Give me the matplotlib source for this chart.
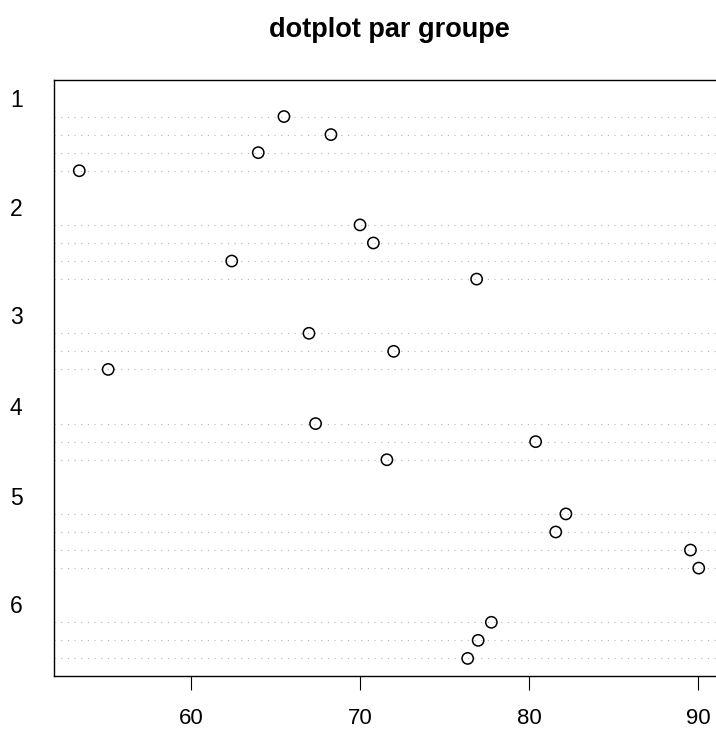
#!/usr/bin/env python3
"""Dotplot par groupe, dans le style de dotchart() de R."""

import matplotlib
matplotlib.use("Agg")
import matplotlib.pyplot as plt
import matplotlib.transforms as mtransforms
import numpy as np

plt.rcParams["font.family"] = ["Liberation Sans", "DejaVu Sans"]

TITLE = "dotplot par groupe"
GROUP_LABELS = ["1", "2", "3", "4", "5", "6"]

# values of each group, listed top to bottom as they appear
GROUP_1 = [65.50, 68.28, 63.98, 53.39]
GROUP_2 = [70.00, 70.79, 62.41, 76.90]
GROUP_3 = [66.98, 71.99, 55.10]
GROUP_4 = [67.37, 80.39, 71.59]
GROUP_5 = [82.18, 81.58, 89.55, 90.04]
GROUP_6 = [77.77, 76.99, 76.37]

GROUPS = [GROUP_1, GROUP_2, GROUP_3, GROUP_4, GROUP_5, GROUP_6]
X_TICKS = [60, 70, 80, 90]


def dotchart_positions(groups):
    """Same layout as R dotchart: rows from bottom, 2 blank rows between groups."""
    ys, xs, gpos = [], [], []
    y = 0
    for values in reversed(groups):
        for v in reversed(values):
            y += 1
            ys.append(y)
            xs.append(v)
        gpos.append(y + 1)
        y += 2
    return np.array(xs), np.array(ys), list(reversed(gpos)), y


def main() -> None:
    fig = plt.figure(figsize=(7.16, 7.33), dpi=100)
    ax = fig.add_axes([0.0761, 0.0771, 0.9344, 0.8132])

    xs, ys, gpos, ymax = dotchart_positions(GROUPS)

    for yy in ys:
        ax.axhline(yy, color="#b4b4b4", lw=0.8, linestyle=(0, (1, 5)), zorder=1)

    ax.scatter(xs, ys, s=66, facecolors="none", edgecolors="black", linewidths=1.1, zorder=3)

    ax.margins(x=0.04)
    ax.set_ylim(0, ymax)

    ax.set_xticks(X_TICKS)
    ax.set_xticklabels([str(t) for t in X_TICKS])
    ax.tick_params(axis="x", length=10, width=0.8, pad=13, labelsize=16)
    ax.set_yticks([])
    for side in ["top", "left", "bottom", "right"]:
        ax.spines[side].set_linewidth(1.0)

    trans = mtransforms.blended_transform_factory(fig.transFigure, ax.transData)
    for label, g in zip(GROUP_LABELS, gpos):
        ax.text(10 / 716, g, label, transform=trans, ha="left", va="center_baseline",
                fontsize=16.5, clip_on=False)

    ax.set_title(TITLE, fontsize=19.5, fontweight="bold", pad=31)

    fig.savefig("out.png", dpi=100)
    plt.close(fig)


if __name__ == "__main__":
    main()
